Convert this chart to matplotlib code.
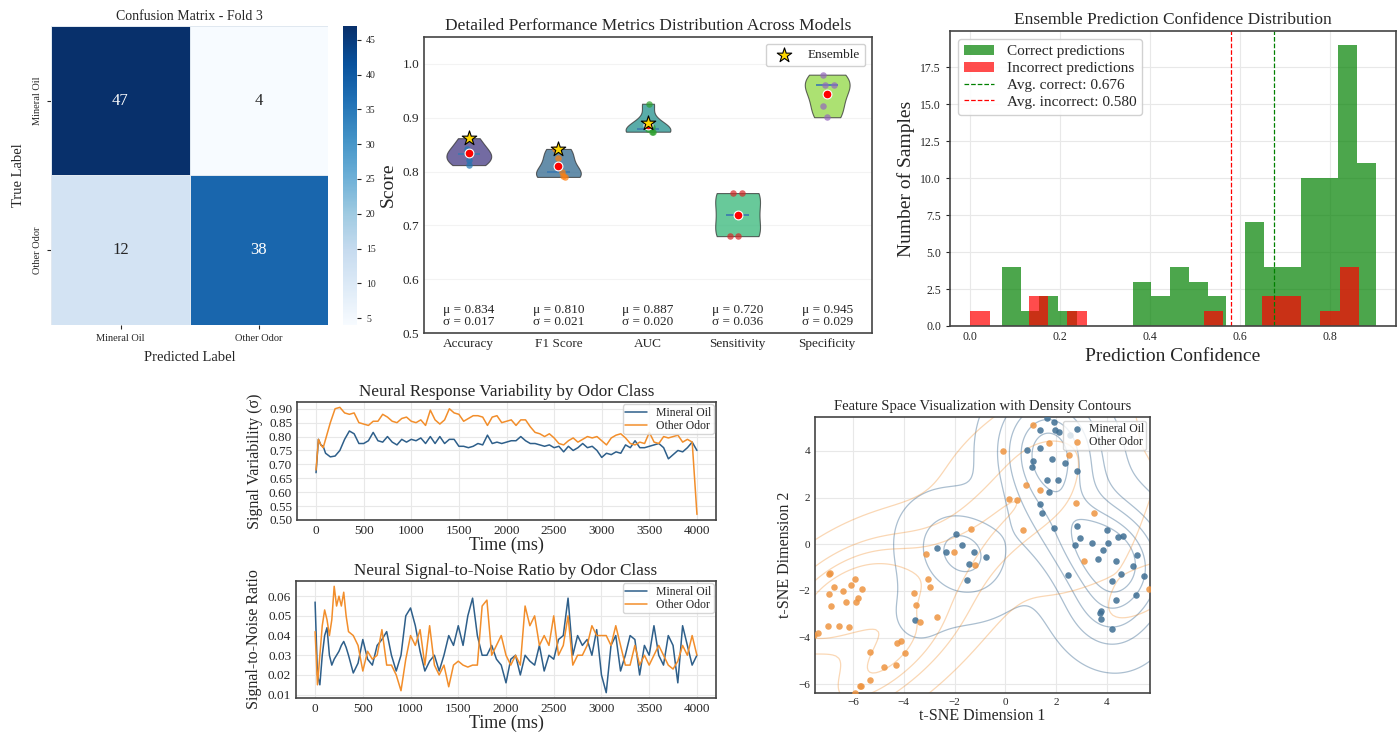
import numpy as np
import matplotlib
matplotlib.use("Agg")
import matplotlib.pyplot as plt
import seaborn as sns

# ---- confusion matrix ----
cm_labels = ["Mineral Oil", "Other Odor"]
cm_counts = [[47, 4],
             [12, 38]]

# ---- per-model metric scores ----
metric_names = ["Accuracy", "F1 Score", "AUC", "Sensitivity", "Specificity"]
metric_scores = [
    [0.862, 0.842, 0.832, 0.822, 0.812],
    [0.842, 0.826, 0.800, 0.792, 0.790],
    [0.926, 0.882, 0.879, 0.874, 0.874],
    [0.760, 0.760, 0.720, 0.680, 0.680],
    [0.980, 0.960, 0.960, 0.922, 0.901],
]
metric_jitter = [
    [0.00, -0.02, 0.00, 0.00, 0.00],
    [-0.04, 0.00, 0.04, 0.05, 0.07],
    [0.01, 0.05, 0.00, 0.04, 0.06],
    [-0.05, 0.05, 0.00, -0.08, 0.00],
    [-0.05, -0.02, 0.08, -0.05, 0.00],
]
ensemble_scores = [0.862, 0.842, 0.890, None, None]

# ---- ensemble confidence histograms (20 bins each) ----
correct_range = (0.0704, 0.902)
correct_counts = [4, 1, 2, 1, 0, 0, 0, 3, 2, 4, 3, 2, 0, 7, 4, 4, 10, 10, 19, 11]
incorrect_range = (0.0, 0.865)
incorrect_counts = [1, 0, 0, 2, 0, 1, 0, 0, 0, 0, 0, 0, 1, 0, 0, 2, 2, 0, 1, 4]
avg_correct = 0.676
avg_incorrect = 0.580

# ---- response variability over time ----
var_time = [0, 25, 50, 75] + list(range(100, 4001, 50))
var_mineral = [
    0.67, 0.79, 0.77, 0.765, 0.74, 0.727, 0.73, 0.75, 0.79, 0.82,
    0.81, 0.775, 0.775, 0.785, 0.815, 0.785, 0.78, 0.80, 0.78, 0.77,
    0.79, 0.78, 0.79, 0.785, 0.795, 0.775, 0.80, 0.775, 0.80, 0.775,
    0.79, 0.79, 0.765, 0.765, 0.76, 0.765, 0.775, 0.77, 0.805, 0.775,
    0.78, 0.775, 0.78, 0.785, 0.785, 0.80, 0.785, 0.775, 0.775, 0.77,
    0.765, 0.77, 0.76, 0.765, 0.745, 0.765, 0.75, 0.76, 0.775, 0.76,
    0.765, 0.75, 0.725, 0.74, 0.735, 0.745, 0.74, 0.77, 0.76, 0.785,
    0.76, 0.76, 0.765, 0.77, 0.775, 0.76, 0.72, 0.735, 0.75, 0.745,
    0.76, 0.78, 0.75,
]
var_other = [
    0.68, 0.79, 0.77, 0.76, 0.79, 0.85, 0.90, 0.905, 0.885, 0.88,
    0.885, 0.85, 0.845, 0.84, 0.855, 0.855, 0.88, 0.87, 0.855, 0.85,
    0.865, 0.87, 0.855, 0.85, 0.86, 0.84, 0.895, 0.86, 0.845, 0.86,
    0.90, 0.885, 0.88, 0.855, 0.865, 0.875, 0.875, 0.87, 0.84, 0.87,
    0.875, 0.85, 0.855, 0.86, 0.84, 0.86, 0.86, 0.835, 0.815, 0.81,
    0.80, 0.81, 0.795, 0.775, 0.77, 0.785, 0.795, 0.78, 0.79, 0.80,
    0.795, 0.80, 0.785, 0.77, 0.795, 0.805, 0.81, 0.795, 0.775, 0.77,
    0.78, 0.775, 0.815, 0.78, 0.775, 0.80, 0.795, 0.80, 0.805, 0.78,
    0.79, 0.78, 0.52,
]

# ---- signal-to-noise ratio over time ----
snr_time = list(range(0, 350, 25)) + list(range(350, 4001, 50))
snr_mineral = [
    0.057, 0.020, 0.015, 0.030, 0.040, 0.044, 0.030, 0.025, 0.028, 0.030,
    0.032, 0.035, 0.037, 0.034,
    0.030, 0.021, 0.026, 0.038, 0.028, 0.025, 0.035, 0.038, 0.042, 0.030,
    0.022, 0.030, 0.050, 0.054, 0.045, 0.032, 0.022, 0.027, 0.030, 0.022,
    0.030, 0.040, 0.035, 0.045, 0.035, 0.050, 0.059, 0.040, 0.030, 0.030,
    0.035, 0.028, 0.025, 0.016, 0.028, 0.030, 0.020, 0.030, 0.027, 0.025,
    0.035, 0.022, 0.030, 0.028, 0.038, 0.040, 0.059, 0.030, 0.040, 0.035,
    0.038, 0.030, 0.043, 0.020, 0.011, 0.035, 0.040, 0.022, 0.030, 0.040,
    0.038, 0.020, 0.035, 0.030, 0.045, 0.030, 0.025, 0.040, 0.035, 0.016,
    0.045, 0.035, 0.025, 0.030,
]
snr_other = [
    0.042, 0.015, 0.030, 0.045, 0.053, 0.048, 0.040, 0.048, 0.065, 0.055,
    0.060, 0.055, 0.062, 0.050,
    0.042, 0.040, 0.035, 0.022, 0.032, 0.028, 0.030, 0.043, 0.025, 0.025,
    0.020, 0.012, 0.028, 0.040, 0.035, 0.043, 0.025, 0.045, 0.025, 0.020,
    0.025, 0.014, 0.025, 0.027, 0.025, 0.024, 0.025, 0.025, 0.055, 0.058,
    0.030, 0.035, 0.040, 0.030, 0.025, 0.030, 0.025, 0.055, 0.045, 0.050,
    0.035, 0.040, 0.035, 0.050, 0.030, 0.035, 0.050, 0.025, 0.030, 0.030,
    0.035, 0.045, 0.040, 0.040, 0.040, 0.035, 0.045, 0.035, 0.025, 0.025,
    0.035, 0.025, 0.030, 0.025, 0.030, 0.035, 0.030, 0.025, 0.023, 0.027,
    0.035, 0.030, 0.040, 0.030,
]

# ---- t-SNE embedding ----
tsne_mineral_x = [1.65, 1.92, 1.36, 1.96, 2.10, 2.54, 1.37, 0.86, 1.85, 1.08,
                  2.36, 1.04, 2.81, 1.65, 2.09, 1.72, 1.36, 1.43, 1.90, 2.83,
                  3.99, 4.64, 4.45, 2.93, 3.42, 4.06, 2.76, 3.83, 5.19, 3.67,
                  4.37, 5.03, 4.57, 2.46, 5.47, 4.19, 5.13, 4.35, 3.76, 3.74,
                  3.75, 4.19, -1.96, -1.72, -2.71, -2.34, -1.25, -0.75, -1.45,
                  -1.53, -3.57]
tsne_mineral_y = [5.40, 5.23, 4.91, 4.88, 4.79, 4.67, 4.13, 4.03, 3.67, 3.58,
                  3.47, 3.33, 3.13, 2.76, 2.75, 2.23, 1.72, 1.32, 0.68, 0.78,
                  0.61, 0.37, 0.33, 0.26, 0.04, 0.04, -0.03, -0.24, -0.46, -0.63,
                  -0.71, -0.91, -1.27, -1.31, -1.34, -1.56, -2.19, -2.40, -2.87,
                  -2.94, -3.19, -3.61, 0.44, -0.03, -0.14, -0.34, -0.34, -0.54,
                  -0.84, -1.54, -3.26]
tsne_other_x = [1.10, 1.73, -0.11, 2.51, 0.81, 1.35, 0.15, 0.45, 2.80, 3.50,
                0.70, -1.35, -2.03, -3.12, -1.19, 3.10, 5.68, -3.04, -2.96,
                -3.59, -3.53, -2.69, -3.38, -6.90, -6.96, -5.94, -6.74, -6.10,
                -5.63, -6.95, -6.38, -5.82, -5.89, -6.29, -6.88, -6.97, -6.54,
                -6.16, -7.38, -7.52, -4.11, -4.25, -5.35, -3.96, -4.78, -4.31,
                -5.34, -5.67, -5.72, -5.93]
tsne_other_y = [5.11, 4.35, 4.01, 3.81, 2.55, 2.32, 1.93, 1.88, 1.76, 1.35,
                0.63, 0.67, -0.34, -0.40, -0.88, -0.71, -1.93, -1.47, -1.81,
                -2.08, -2.59, -3.12, -3.34, -1.25, -1.28, -1.47, -1.81, -1.74,
                -1.93, -2.12, -1.99, -2.30, -2.48, -2.49, -2.63, -3.49, -3.51,
                -3.54, -3.80, -3.90, -4.15, -4.22, -4.61, -4.67, -5.26, -5.15,
                -5.82, -6.05, -6.09, -6.36]

BLUE = "#2E5F8A"
ORANGE = "#F28E2B"

plt.style.use("seaborn-v0_8-whitegrid")
plt.rcParams.update({
    "font.family": ["Liberation Serif", "DejaVu Serif"],
    "axes.edgecolor": "#444444",
    "axes.linewidth": 1.2,
    "grid.color": "#e8e8e8",
    "axes.unicode_minus": True,
})

W, H = 1398, 734
fig = plt.figure(figsize=(W / 100, H / 100), dpi=100)


def px_axes(x0, y0, x1, y1):
    # rectangle given in pixel coords (top-left origin)
    return fig.add_axes([x0 / W, 1 - y1 / H, (x1 - x0) / W, (y1 - y0) / H])


# ---------------- confusion matrix ----------------
ax_cm = px_axes(51.5, 26, 327.5, 325)
cax = px_axes(343, 26, 357, 325)
sns.heatmap(np.array(cm_counts), annot=True, fmt="d", cmap="Blues",
            xticklabels=cm_labels, yticklabels=cm_labels, ax=ax_cm, cbar_ax=cax,
            linewidths=0.5, linecolor="#e0e8f0", annot_kws={"size": 12})
ax_cm.set_title("Confusion Matrix - Fold 3", fontsize=10, pad=4)
ax_cm.set_xlabel("Predicted Label", fontsize=10.5, labelpad=6)
ax_cm.set_ylabel("True Label", fontsize=10.5, labelpad=6)
ax_cm.tick_params(axis="both", labelsize=7.5, length=3, bottom=True, left=True)
cax.tick_params(labelsize=7, length=3, right=True)
cax.set_frame_on(False)

# ---------------- metric violins ----------------
ax_v = px_axes(424, 37, 872, 333)
pos = np.arange(len(metric_names))
viridis = sns.color_palette("viridis", len(metric_names))
parts = ax_v.violinplot(metric_scores, positions=pos, widths=0.5,
                        showmeans=False, showmedians=True, showextrema=False)
for body, col in zip(parts["bodies"], viridis):
    body.set_facecolor(col)
    body.set_edgecolor("#333333")
    body.set_linewidth(0.8)
    body.set_alpha(0.75)
parts["cmedians"].set_color("#3a78b0")
parts["cmedians"].set_linewidth(1.2)

dot_colors = plt.get_cmap("tab10").colors
for i, (vals, jit) in enumerate(zip(metric_scores, metric_jitter)):
    ax_v.scatter(np.array(jit) + i, vals, s=22, color=dot_colors[i], alpha=0.7,
                 zorder=3, linewidths=0)
    ax_v.scatter(i, np.mean(vals), s=40, color="red", edgecolors="white",
                 linewidths=0.8, zorder=4)
    ax_v.text(i, 0.532, f"μ = {np.mean(vals):.3f}\nσ = {np.std(vals):.3f}",
              ha="center", va="center", fontsize=9.5, linespacing=0.95)

star_x = [i for i, s in enumerate(ensemble_scores) if s is not None]
star_y = [s for s in ensemble_scores if s is not None]
ax_v.scatter(star_x, star_y, marker="*", s=120, color="gold", edgecolors="black",
             linewidths=0.8, zorder=5, label="Ensemble")
ax_v.set_xlim(-0.5, 4.5)
ax_v.set_ylim(0.5, 1.05)
ax_v.set_xticks(pos)
ax_v.set_xticklabels(metric_names, fontsize=9.5)
ax_v.tick_params(axis="y", labelsize=9.5)
ax_v.set_yticks([0.5, 0.6, 0.7, 0.8, 0.9, 1.0])
ax_v.grid(axis="x", visible=False)
ax_v.grid(axis="y", alpha=0.5)
ax_v.set_ylabel("Score", fontsize=14)
ax_v.set_title("Detailed Performance Metrics Distribution Across Models",
               fontsize=12.5, pad=5)
ax_v.legend(loc="upper right", fontsize=9.5, frameon=True, framealpha=0.9)

# ---------------- confidence histogram ----------------
ax_h = px_axes(950, 31, 1396, 326)
c_edges = np.linspace(correct_range[0], correct_range[1], len(correct_counts) + 1)
i_edges = np.linspace(incorrect_range[0], incorrect_range[1], len(incorrect_counts) + 1)
ax_h.hist(c_edges[:-1], bins=c_edges, weights=correct_counts, color="green",
          alpha=0.7, label="Correct predictions")
ax_h.hist(i_edges[:-1], bins=i_edges, weights=incorrect_counts, color="red",
          alpha=0.7, label="Incorrect predictions")
ax_h.axvline(avg_correct, color="green", linestyle="--", linewidth=0.9,
             label=f"Avg. correct: {avg_correct:.3f}")
ax_h.axvline(avg_incorrect, color="red", linestyle="--", linewidth=0.9,
             label=f"Avg. incorrect: {avg_incorrect:.3f}")
ax_h.set_xticks([0.0, 0.2, 0.4, 0.6, 0.8])
ax_h.set_yticks([0, 2.5, 5, 7.5, 10, 12.5, 15, 17.5])
ax_h.yaxis.set_major_formatter(matplotlib.ticker.FormatStrFormatter("%.1f"))
ax_h.tick_params(axis="both", labelsize=8.5)
ax_h.tick_params(axis="y", left=True, length=3, width=0.8)
ax_h.set_xlabel("Prediction Confidence", fontsize=14)
ax_h.set_ylabel("Number of Samples", fontsize=14)
ax_h.set_title("Ensemble Prediction Confidence Distribution", fontsize=12.5, pad=5)
ax_h.legend(loc="upper left", fontsize=11, frameon=True, framealpha=0.9,
            handlelength=2.0, labelspacing=0.2, borderpad=0.4)

# ---------------- variability over time ----------------
ax_t1 = px_axes(297, 402, 716, 520)
ax_t1.plot(var_time, var_mineral, color=BLUE, linewidth=1.1, label="Mineral Oil")
ax_t1.plot(var_time, var_other, color=ORANGE, linewidth=1.1, label="Other Odor")
ax_t1.set_yticks(np.arange(0.50, 0.91, 0.05))
ax_t1.yaxis.set_major_formatter(matplotlib.ticker.FormatStrFormatter("%.2f"))
ax_t1.tick_params(labelsize=9.5)
ax_t1.set_xlabel("Time (ms)", fontsize=13, labelpad=0)
ax_t1.set_ylabel("Signal Variability (σ)", fontsize=11.5)
ax_t1.set_title("Neural Response Variability by Odor Class", fontsize=12.3, pad=4)
ax_t1.legend(loc="upper right", fontsize=8.5, frameon=True, borderpad=0.2,
             labelspacing=0.1, handlelength=1.8, borderaxespad=0.2)

# ---------------- SNR over time ----------------
ax_t2 = px_axes(296, 581, 716, 698)
ax_t2.plot(snr_time, snr_mineral, color=BLUE, linewidth=1.1, label="Mineral Oil")
ax_t2.plot(snr_time, snr_other, color=ORANGE, linewidth=1.1, label="Other Odor")
ax_t2.set_yticks([0.01, 0.02, 0.03, 0.04, 0.05, 0.06])
ax_t2.tick_params(labelsize=9.5)
ax_t2.set_xlabel("Time (ms)", fontsize=13, labelpad=0)
ax_t2.set_ylabel("Signal-to-Noise Ratio", fontsize=11.5)
ax_t2.set_title("Neural Signal-to-Noise Ratio by Odor Class", fontsize=12.3, pad=4)
ax_t2.legend(loc="upper right", fontsize=8.5, frameon=True, borderpad=0.2,
             labelspacing=0.1, handlelength=1.8, borderaxespad=0.2)

# ---------------- t-SNE with density contours ----------------
ax_s = px_axes(815, 417, 1150, 693)
sns.kdeplot(x=tsne_mineral_x, y=tsne_mineral_y, ax=ax_s, color=BLUE, levels=6,
            alpha=0.4, linewidths=0.9)
sns.kdeplot(x=tsne_other_x, y=tsne_other_y, ax=ax_s, color=ORANGE, levels=5,
            alpha=0.35, linewidths=0.9)
ax_s.scatter(tsne_mineral_x, tsne_mineral_y, s=22, color="#3E6E93", alpha=0.85,
             linewidths=0, label="Mineral Oil", zorder=3)
ax_s.scatter(tsne_other_x, tsne_other_y, s=22, color="#EE9440", alpha=0.85,
             linewidths=0, label="Other Odor", zorder=3)
ax_s.set_xlim(-7.5, 5.7)
ax_s.set_ylim(-6.37, 5.45)
ax_s.set_xticks([-6, -4, -2, 0, 2, 4])
ax_s.set_yticks([-6, -4, -2, 0, 2, 4])
ax_s.tick_params(labelsize=8)
ax_s.set_xlabel("t-SNE Dimension 1", fontsize=11.5, labelpad=1)
ax_s.set_ylabel("t-SNE Dimension 2", fontsize=11.5)
ax_s.set_title("Feature Space Visualization with Density Contours", fontsize=10.5, pad=5)
ax_s.legend(loc="upper right", fontsize=8.5, frameon=True, handletextpad=0.0,
            borderpad=0.2, labelspacing=0.1, borderaxespad=0.3, markerscale=1.0)

fig.savefig("out.png", dpi=100)
